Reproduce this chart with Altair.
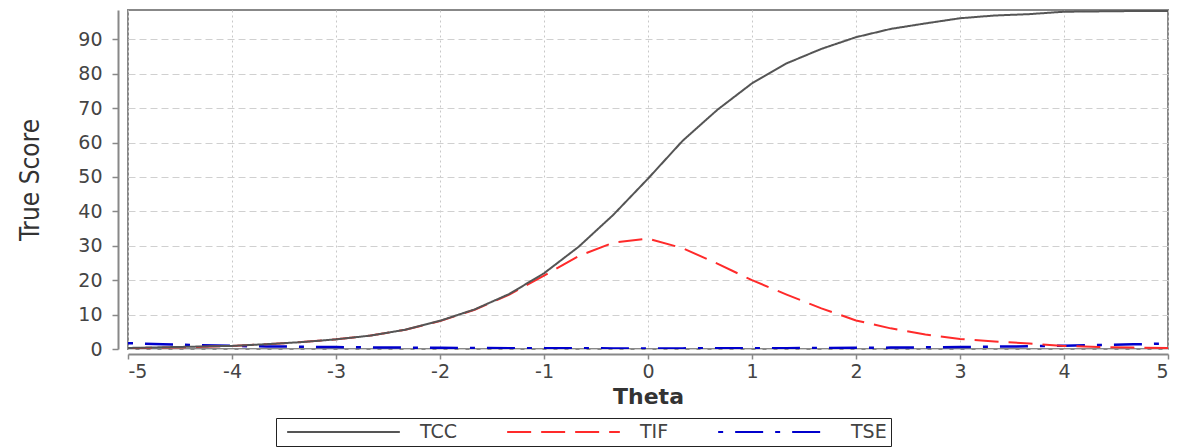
import altair as alt
import pandas as pd

theta = [-5.0, -4.667, -4.333, -4.0, -3.667, -3.333, -3.0, -2.667, -2.333, -2.0,
         -1.667, -1.333, -1.0, -0.667, -0.333, 0.0, 0.333, 0.667, 1.0, 1.333,
         1.667, 2.0, 2.333, 2.667, 3.0, 3.333, 3.667, 4.0, 4.333, 4.667, 5.0]

tcc = [0.3, 0.5, 0.7, 0.9, 1.4, 2.0, 2.8, 3.9, 5.6, 8.2,
       11.5, 16.0, 22.0, 29.7, 39.0, 49.5, 60.5, 69.5, 77.2, 83.0,
       87.2, 90.6, 93.0, 94.6, 96.1, 96.9, 97.3, 98.0, 98.1, 98.2, 98.2]

tif = [0.2, 0.4, 0.6, 0.9, 1.4, 2.0, 2.8, 3.9, 5.6, 8.1,
       11.4, 15.8, 21.3, 27.0, 30.9, 32.1, 29.3, 24.8, 20.0, 15.8,
       11.8, 8.3, 6.0, 4.2, 2.9, 2.2, 1.6, 0.9, 0.6, 0.4, 0.3]

tse = [1.7, 1.4, 1.1, 0.9, 0.75, 0.65, 0.55, 0.45, 0.4, 0.33,
       0.28, 0.24, 0.21, 0.19, 0.18, 0.18, 0.18, 0.2, 0.22, 0.25,
       0.29, 0.34, 0.4, 0.48, 0.58, 0.68, 0.8, 0.95, 1.15, 1.35, 1.6]

series_names = ["TCC", "TIF", "TSE"]
series_colors = ["#555555", "#ff2a2a", "#0000cc"]
series_dashes = [[1, 0], [24, 10], [5, 12, 28, 12]]

rows = []
for name, vals in zip(series_names, [tcc, tif, tse]):
    for t, v in zip(theta, vals):
        rows.append({"theta": t, "value": v, "series": name})
df = pd.DataFrame(rows)

legend_spec = alt.Legend(
    title=None, orient="none", legendX=148, legendY=408, direction="horizontal",
    columns=3, symbolType="stroke", symbolSize=12700, symbolStrokeWidth=2,
    labelFontSize=19, labelFont="DejaVu Sans", labelColor="#444444",
    labelOffset=19, columnPadding=42, padding=4, clipHeight=20,
    strokeColor="#222222", symbolOffset=6,
)

x_enc = alt.X("theta:Q", title="Theta",
              scale=alt.Scale(domain=[-5, 5], nice=False, zero=False),
              axis=alt.Axis(values=[-5, -4, -3, -2, -1, 0, 1, 2, 3, 4, 5],
                            labelExpr="datum.value + ''",
                            offset=5, tickSize=5, labelPadding=3,
                            gridDash=[2, 3], gridColor="#c8c8c8",
                            titleFontWeight="bold", titleFontSize=22,
                            titlePadding=5, titleFont="DejaVu Sans",
                            titleColor="#333333"))
y_enc = alt.Y("value:Q", title="True Score",
              scale=alt.Scale(domain=[0, 98.5], nice=False),
              axis=alt.Axis(values=[0, 10, 20, 30, 40, 50, 60, 70, 80, 90],
                            offset=10, tickSize=6, labelPadding=10,
                            gridDash=[7, 4], gridColor="#d0d0d0",
                            titleFontSize=26, titleFontWeight="normal",
                            titleFont="Liberation Sans Narrow, DejaVu Sans Condensed, sans-serif",
                            titleColor="#333333", titlePadding=34))
color_enc = alt.Color("series:N",
                      scale=alt.Scale(domain=series_names, range=series_colors),
                      legend=legend_spec)
dash_enc = alt.StrokeDash("series:N",
                          scale=alt.Scale(domain=series_names, range=series_dashes),
                          legend=legend_spec)

layers = []
for name, sw in [("TSE", 2.5), ("TIF", 2), ("TCC", 2)]:
    layers.append(
        alt.Chart(df).transform_filter(alt.datum.series == name)
        .mark_line(strokeWidth=sw, clip=True)
        .encode(x=x_enc, y=y_enc, color=color_enc, strokeDash=dash_enc)
    )

chart = alt.layer(*layers).properties(
    width=1040, height=339,
    autosize=alt.AutoSizeParams(type="none"),
    padding={"left": 128, "top": 10, "right": 16, "bottom": 99},
).configure_view(
    stroke="#888888", strokeWidth=2
).configure_axis(
    labelFont="DejaVu Sans", labelFontSize=19, labelColor="#444444",
    domainColor="#888888", domainWidth=2, tickColor="#888888", tickWidth=1.5,
)

chart.save("out.html", embed_options={"renderer": "svg", "actions": False})
